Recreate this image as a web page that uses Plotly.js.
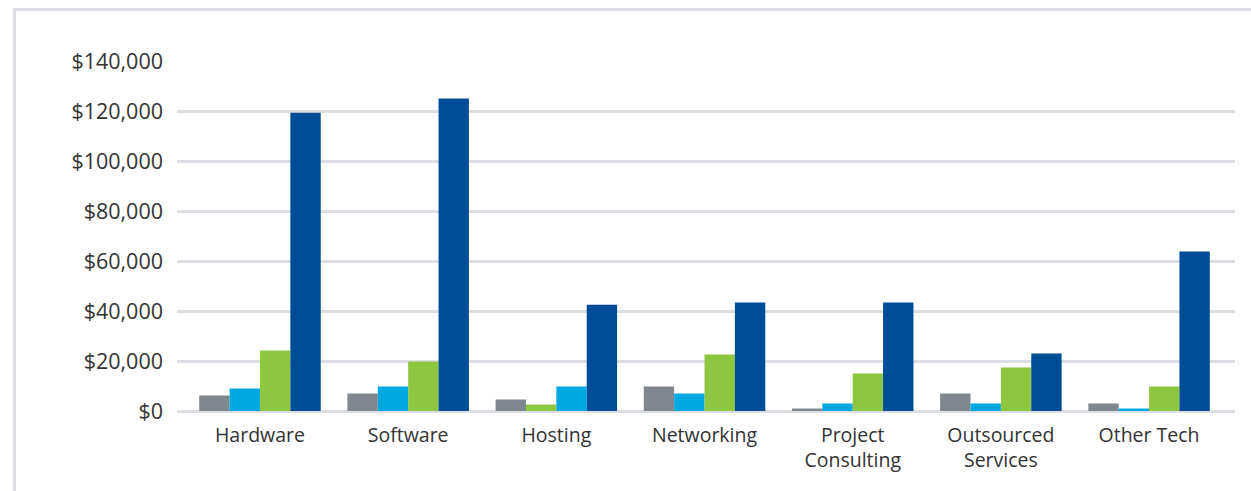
<!DOCTYPE html>
<html>
<head>
<meta charset="utf-8">
<script src="https://cdn.plot.ly/plotly-3.0.1.min.js"></script>
<style>
  html, body { margin: 0; padding: 0; background: #fff; }
  #wrap { position: relative; width: 1251px; height: 491px; }
  #chart { width: 1251px; height: 491px; }
  #frame { position: absolute; left: 13px; top: 8px; width: 1238px; height: 483px;
           border-top: 3px solid #dcdee4; border-left: 3px solid #dcdee4;
           box-sizing: border-box; pointer-events: none; }
</style>
</head>
<body>
<div id="wrap">
  <div id="chart"></div>
  <div id="frame"></div>
</div>
<script>
const categories = ["Hardware", "Software", "Hosting", "Networking", "Project<br>Consulting", "Outsourced<br>Services", "Other Tech"];

// bars in order of position within each group
const bar1 = [6200, 7000, 4600, 9800, 1000, 7000, 3000];
const bar2 = [9000, 9800, 2600, 7000, 3000, 3000, 1000];
const bar3 = [24200, 19800, 9800, 22600, 15000, 17400, 9800];
const bar4 = [119300, 125000, 42500, 43400, 43400, 23000, 63800];

const GRAY = "#80878e", LIGHT = "#00a8e1", GREEN = "#8dc63f", DARK = "#004c97";
const bar1Colors = [GRAY, GRAY, GRAY, GRAY, GRAY, GRAY, GRAY];
const bar2Colors = [LIGHT, LIGHT, GREEN, LIGHT, LIGHT, LIGHT, LIGHT];
const bar3Colors = [GREEN, GREEN, LIGHT, GREEN, GREEN, GREEN, GREEN];
const bar4Colors = [DARK, DARK, DARK, DARK, DARK, DARK, DARK];

const yTicks = [0, 20000, 40000, 60000, 80000, 100000, 120000, 140000];
const yTickLabels = ["$0", "$20,000", "$40,000", "$60,000", "$80,000", "$100,000", "$120,000", "$140,000"];

const mk = (y, colors) => ({
  type: "bar", x: categories, y: y,
  marker: { color: colors, line: { width: 0 } },
  hoverinfo: "x+y"
});

const data = [mk(bar1, bar1Colors), mk(bar2, bar2Colors), mk(bar3, bar3Colors), mk(bar4, bar4Colors)];

const layout = {
  width: 1251, height: 491,
  margin: { l: 177, r: 16, t: 61, b: 80 },
  paper_bgcolor: "#ffffff", plot_bgcolor: "#ffffff",
  barmode: "group", bargap: 0.18, bargroupgap: 0,
  showlegend: false,
  font: { family: "Open Sans, sans-serif", color: "#333333" },
  xaxis: {
    type: "category",
    range: [-0.56, 6.58],
    showgrid: false, zeroline: false, showline: false,
    ticks: "", ticklabelstandoff: 10,
    tickfont: { size: 19.5, color: "#333333" }
  },
  yaxis: {
    range: [0, 140000],
    tickvals: yTicks, ticktext: yTickLabels,
    showgrid: true, gridcolor: "#dcdee3", gridwidth: 3,
    zeroline: true, zerolinecolor: "#dcdee3", zerolinewidth: 3,
    showline: false, ticks: "", ticklabelstandoff: 13,
    tickfont: { size: 21.5, color: "#333333" }
  }
};

Plotly.newPlot("chart", data, layout, { displayModeBar: false, staticPlot: true });
</script>
</body>
</html>
